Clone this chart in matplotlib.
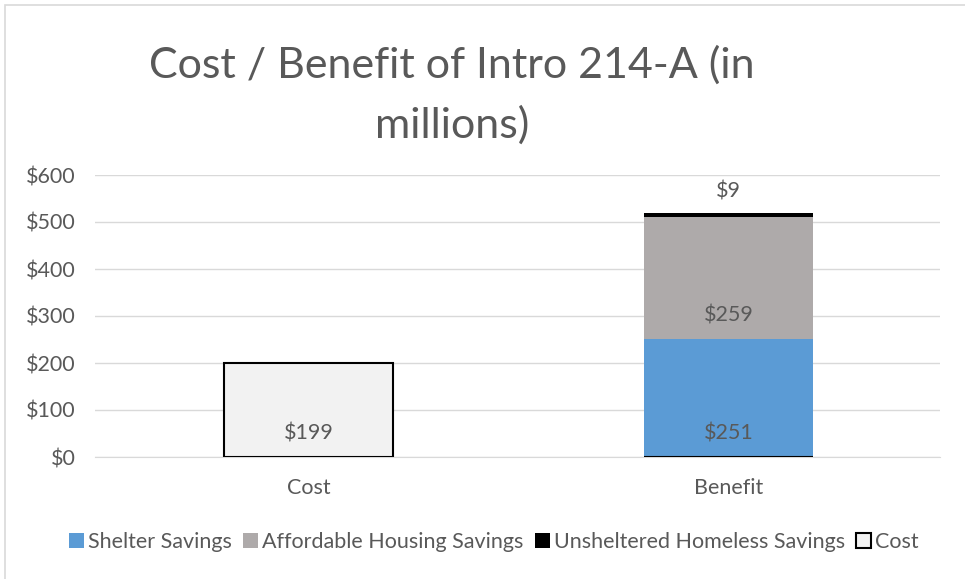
import matplotlib.pyplot as plt
from matplotlib.patches import Rectangle

plt.rcParams["font.family"] = ["Lato", "DejaVu Sans"]

categories = ["Cost", "Benefit"]
shelter = [0, 251]
affordable = [0, 259]
unsheltered = [0, 9]
cost = [199, 0]
y_ticks = [0, 100, 200, 300, 400, 500, 600]

TEXT = "#595959"
GRID = "#d9d9d9"
FS = 15.5

fig = plt.figure(figsize=(9.65, 5.79), dpi=100)
fig.patches.append(Rectangle((5 / 965, -0.01), 1.0, 1 - 5 / 579 + 0.01,
                             transform=fig.transFigure, fill=False,
                             edgecolor=GRID, linewidth=1.2))
ax = fig.add_axes([95 / 965, 1 - 457 / 579, 845 / 965, 282 / 579])

x = [0.005, 1.0]
w = 0.4
b1 = ax.bar(x, shelter, w, color="#5b9bd5", label="Shelter Savings", zorder=3)
b2 = ax.bar(x, affordable, w, bottom=shelter, color="#aeaaaa",
            label="Affordable Housing Savings", zorder=3)
bottom3 = [s + a for s, a in zip(shelter, affordable)]
b3 = ax.bar(x, unsheltered, w, bottom=bottom3, color="black",
            label="Unsheltered Homeless Savings", zorder=3)
b4 = ax.bar(x, cost, w, color="#f2f2f2", edgecolor="black", linewidth=1.5,
            label="Cost", zorder=3)

# data labels (inside base, like Excel)
off = 51
ax.text(x[0], off, f"${cost[0]}", ha="center", va="center", fontsize=FS, color=TEXT, zorder=4)
ax.text(x[1], off, f"${shelter[1]}", ha="center", va="center", fontsize=FS, color=TEXT, zorder=4)
ax.text(x[1], shelter[1] + off, f"${affordable[1]}", ha="center", va="center",
        fontsize=FS, color=TEXT, zorder=4)
ax.text(x[1], bottom3[1] + off + 4, f"${unsheltered[1]}", ha="center",
        va="center", fontsize=FS, color=TEXT, zorder=4)

ax.set_xlim(-0.5, 1.5)
ax.set_ylim(0, 600)
ax.set_yticks(y_ticks)
ax.set_yticklabels([f"${v}" for v in y_ticks])
ax.set_xticks(x)
ax.set_xticklabels(categories)
ax.tick_params(length=0, labelsize=FS, colors=TEXT)
ax.tick_params(axis="y", pad=14)
ax.tick_params(axis="x", pad=15)
ax.grid(axis="y", color=GRID, linewidth=1, zorder=0)
for s in ["top", "right", "left"]:
    ax.spines[s].set_visible(False)
ax.spines["bottom"].set_color(GRID)

fig.text(452 / 965, 1 - 65 / 579, "Cost / Benefit of Intro 214-A (in",
         ha="center", va="center", fontsize=31, color=TEXT)
fig.text(452 / 965, 1 - 125 / 579, "millions)",
         ha="center", va="center", fontsize=31, color=TEXT)

fig.legend(handles=[b1, b2, b3, b4], loc="center", ncol=4,
           bbox_to_anchor=(494 / 965, 1 - 542 / 579), frameon=False,
           fontsize=FS, labelcolor=TEXT, handlelength=0.7, handleheight=0.7,
           handletextpad=0.2, columnspacing=0.5)

fig.savefig("out.png", dpi=100)
